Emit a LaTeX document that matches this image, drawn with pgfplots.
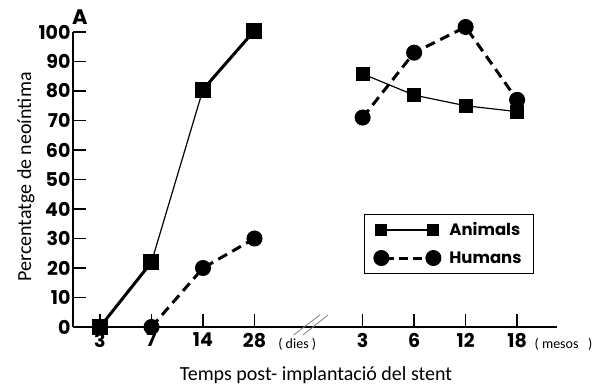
\documentclass[border=0pt]{standalone}
\usepackage{fontspec}
\setmainfont{Carlito}
\newfontfamily\fut{Poppins}
\usepackage{pgfplots}
\pgfplotsset{compat=1.18}
\begin{document}
\begin{tikzpicture}
\path[use as bounding box] (0,0) rectangle (599pt,-386pt);
\begin{axis}[
  at={(73pt,-327pt)}, anchor=south west,
  scale only axis, width=484pt, height=295pt,
  xmin=-0.524, xmax=8.874, ymin=0, ymax=100,
  enlargelimits=false, clip=false,
  axis x line*=bottom, axis y line*=left,
  axis line style={line width=1.6pt, -},
  tick style={line width=1.4pt, black},
  tick align=inside, major tick length=13pt,
  xtick={0,1,2,3,5.1,6.1,7.1,8.1},
  xticklabels={3,7,14,28,3,6,12,18},
  ytick={0,10,...,100},
  /pgf/number format/assume math mode=true,
  tick label style={font=\fut\bfseries\fontsize{19}{19}\selectfont},
  xticklabel style={yshift=-2.5pt},
  yticklabel style={xshift=1pt},
  legend style={at={(rel axis cs:0.601,0.383)}, anchor=north west, draw=black, line width=1pt,
    inner xsep=10pt, inner ysep=1.5pt, row sep=0pt,
    font=\fut\bfseries\fontsize{16.5}{17}\selectfont},
  legend cell align=left,
  legend image code/.code={\path[draw=none, fill=none] (-7pt,-14pt) rectangle (66pt,14pt);\draw[#1] plot coordinates {(0pt,0pt) (52pt,0pt)};},
]
% Animals
\addplot[black, line width=3pt, mark=square*, mark size=6.5pt, mark options={solid}, forget plot] coordinates {(0,0) (1,22)};
\addplot[black, line width=1.2pt, mark=square*, mark size=6.5pt, mark options={solid}, forget plot] coordinates {(1,22) (2,80.5)};
\addplot[black, line width=3pt, mark=square*, mark size=6.5pt, mark options={solid}, forget plot] coordinates {(2,80.5) (3,100.5)};
\addplot[black, line width=1.2pt, mark=square*, mark size=6.5pt, mark options={solid}, forget plot] coordinates {(5.1,85.8) (6.1,78.6) (7.1,75) (8.1,73)};
% Humans
\addplot[black, line width=3pt, dash pattern=on 10pt off 6pt, mark=*, mark size=6.5pt, mark options={solid}, forget plot] coordinates {(1,0) (2,20) (3,30)};
\addplot[black, line width=3pt, dash pattern=on 10pt off 6pt, mark=*, mark size=6.5pt, mark options={solid}, forget plot] coordinates {(5.1,71) (6.1,93) (7.1,101.7) (8.1,77)};
\addlegendimage{black, line width=2pt, solid, mark=square*, mark size=5pt, mark options={solid}}
\addlegendentry{Animals}
\addlegendimage{black, line width=3pt, dash pattern=on 9pt off 5pt, dash phase=-4pt, mark=*, mark size=6.5pt, mark options={solid}}
\addlegendentry{Humans}
% axis break
\draw[gray, line width=0.8pt] (axis cs:3.76,-2.7) -- (axis cs:4.27,4.1);
\draw[gray, line width=0.8pt] (axis cs:3.94,-2.7) -- (axis cs:4.43,4.1);
\node[font=\fontsize{14}{14}\selectfont] at (axis cs:3.83,-5.8) {( dies )};
\node[font=\fontsize{14}{14}\selectfont] at (axis cs:9.0,-5.8) {( mesos\ \ \ )};
\node[font=\fut\bfseries\fontsize{21}{21}\selectfont] at (rel axis cs:0.014,1.052) {A};
\end{axis}
\node[font=\fontsize{20}{20}\selectfont] at (316pt,-375pt) {Temps post- implantació del stent};
\node[font=\fontsize{20}{20}\selectfont, rotate=90] at (26pt,-177pt) {Percentatge de neoíntima};
\end{tikzpicture}
\end{document}
